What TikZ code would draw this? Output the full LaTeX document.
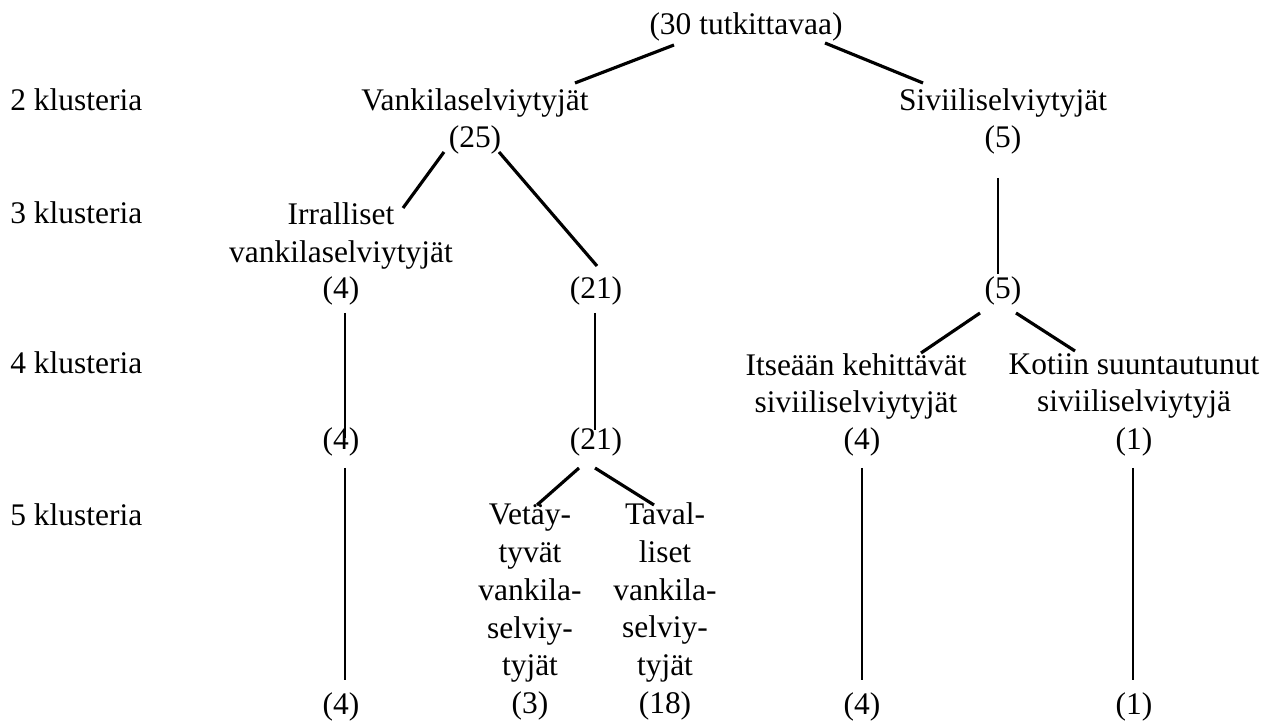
\documentclass[tikz,border=0pt]{standalone}
\usepackage{fontspec}
\setmainfont{Liberation Serif}
\usetikzlibrary{calc}

\begin{document}
\begin{tikzpicture}[x=0.02cm, y=-0.02cm,
		teksti/.style={inner sep=0pt, font=\fontsize{17.9pt}{21.45pt}\selectfont},
		luku/.style={teksti, anchor=base},
		pino/.style={teksti, anchor=north, align=center},
		haara/.style={line width=1.8pt},
		runko/.style={line width=1.4pt}]

		\useasboundingbox (0,0) rectangle (1264,722);

		% Tasojen nimet (vasen reuna)
		\node[teksti, anchor=base west] (taso2) at (10,110.4) {2 klusteria};
		\node[teksti, anchor=base west] (taso3) at (10,223.6) {3 klusteria};
		\node[teksti, anchor=base west] (taso4) at (10,374) {4 klusteria};
		\node[teksti, anchor=base west] (taso5) at (10,525) {5 klusteria};

		% Koko aineisto
		\node[luku] (kaikki) at (746,35) {(30 tutkittavaa)};

		% 2 klusteria
		\node[luku] (vank) at (475,110.4) {Vankilaselviytyjät};
		\node[luku] (vank25) at (475,148) {(25)};
		\node[luku] (sivi) at (1003,110.4) {Siviiliselviytyjät};
		\node[luku] (sivi5a) at (1003,148) {(5)};

		% 3 klusteria
		\node[pino] (irr) at (341,202.6) {Irralliset\\vankilaselviytyjät};
		\node[luku] (irr4a) at (341,299) {(4)};
		\node[luku] (vank21a) at (596,299) {(21)};
		\node[luku] (sivi5b) at (1003,299) {(5)};

		% 4 klusteria
		\node[pino] (itse) at (856,353) {Itseään kehittävät\\siviiliselviytyjät};
		\node[pino] (koti) at (1134,353) {Kotiin suuntautunut\\siviiliselviytyjä};
		\node[luku] (irr4b) at (341,450) {(4)};
		\node[luku] (vank21b) at (596,450) {(21)};
		\node[luku] (itse4a) at (862,450) {(4)};
		\node[luku] (koti1a) at (1134,450) {(1)};

		% 5 klusteria
		\node[pino] (veta) at (530,504) {Vetäy-\\tyvät\\vankila-\\selviy-\\tyjät\\(3)};
		\node[pino] (taval) at (665,502.5) {Taval-\\liset\\vankila-\\selviy-\\tyjät\\(18)};
		\node[luku] (irr4c) at (341,714) {(4)};
		\node[luku] (itse4b) at (862,714) {(4)};
		\node[luku] (koti1b) at (1134,714) {(1)};

		% Haarat
		\draw[haara] ($(kaikki.base)+(-72,10)$) -- ($(vank.base)+(100,-27.4)$);
		\draw[haara] ($(kaikki.base)+(79,8)$) -- ($(sivi.base)+(-80,-27.4)$);
		\draw[haara] ($(vank25.base)+(-31,4)$) -- ($(irr.north)+(62,5.4)$);
		\draw[haara] ($(vank25.base)+(24,4)$) -- ($(vank21a.base)+(1,-33)$);
		\draw[haara] ($(sivi5b.base)+(-23,14)$) -- ($(itse.north)+(65,0)$);
		\draw[haara] ($(sivi5b.base)+(13,14)$) -- ($(koti.north)+(-59,-2)$);
		\draw[haara] ($(vank21b.base)+(-17,18)$) -- ($(veta.north)+(7,1)$);
		\draw[haara] ($(vank21b.base)+(-1,18)$) -- ($(taval.north)+(-11,2.5)$);

		% Pystyviivat
		\draw[runko] ($(sivi5a.base)+(-5,30)$) -- ($(sivi5b.base)+(-5,-25)$);
		\draw[runko] ($(irr4a.base)+(4,14)$) -- ($(irr4b.base)+(4,-12)$);
		\draw[runko] ($(irr4b.base)+(4,18)$) -- ($(irr4c.base)+(4,-34)$);
		\draw[runko] ($(vank21a.base)+(-1,14)$) -- ($(vank21b.base)+(-1,-20)$);
		\draw[runko] ($(itse4a.base)+(0,18)$) -- ($(itse4b.base)+(0,-34)$);
		\draw[runko] ($(koti1a.base)+(-1,18)$) -- ($(koti1b.base)+(-1,-34)$);

	\end{tikzpicture}
\end{document}
